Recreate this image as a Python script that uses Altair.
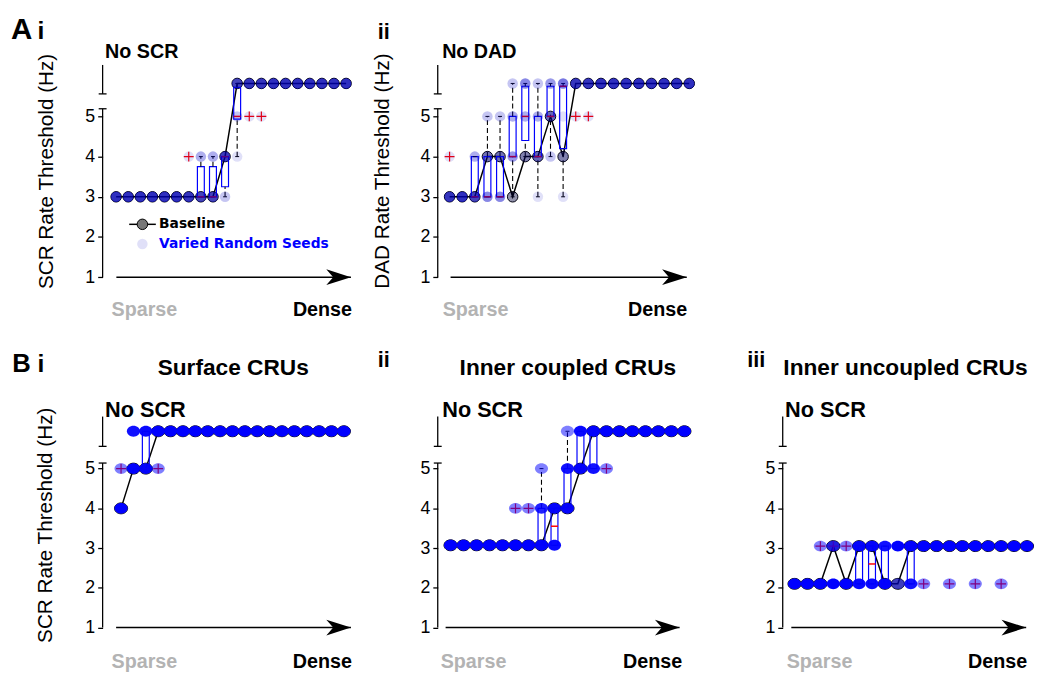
import altair as alt
import pandas as pd

# ---------------- values ----------------
NA = 5.82          # "No SCR" / "No DAD" row (panel A)
NB = 5.94          # "No SCR" row (panels B)
B3 = 3.07          # Bii lower plateau as drawn
L2, H3 = 2.1, 3.05 # Biii plateaus as drawn

# ---- A i ----
AI_BASE = [3, 3, 3, 3, 3, 3, 3, 3, 3, 4, NA, NA, NA, NA, NA, NA, NA, NA, NA, NA]
AI_SEEDS = [(0, 3, 10), (1, 3, 10), (2, 3, 10), (3, 3, 10), (4, 3, 10), (5, 3, 10),
            (6, 3, 9), (6, 4, 1), (7, 3, 7), (7, 4, 3), (8, 3, 7), (8, 4, 3),
            (9, 3, 2), (9, 4, 8), (10, 4, 1), (10, 5, 2), (10, NA, 7),
            (11, 5, 1), (11, NA, 9), (12, 5, 1), (12, NA, 9), (13, NA, 10),
            (14, NA, 10), (15, NA, 10), (16, NA, 10), (17, NA, 10), (18, NA, 10), (19, NA, 10)]
AI_BOX_X = [7, 8, 9, 10]
AI_Q1 = [3, 3, 3.25, 4.93]
AI_Q3 = [3.75, 3.75, 4, 5.72]
AI_MED = [3, 3, 4, 5]
AI_WLO = [3, 3, 3, 4]
AI_WHI = [4, 4, 4, NA]
AI_OUT_X = [6, 11, 12]
AI_OUT_V = [4, 5, 5]

# ---- A ii ----
AII_BASE = [3, 3, 3, 4, 4, 3, 4, 4, 5, 4, NA, NA, NA, NA, NA, NA, NA, NA, NA, NA]
AII_SEEDS = [(0, 3, 9), (0, 4, 1), (1, 3, 10), (2, 3, 7), (2, 4, 3),
             (3, 3, 5), (3, 4, 3), (3, 5, 2), (4, 3, 5), (4, 4, 3), (4, 5, 2),
             (5, 3, 1), (5, 4, 4), (5, 5, 3), (5, NA, 2), (6, 4, 2), (6, 5, 3), (6, NA, 5),
             (7, 3, 1), (7, 4, 4), (7, 5, 3), (7, NA, 2), (8, 4, 2), (8, 5, 4), (8, NA, 4),
             (9, 3, 1), (9, 4, 2), (9, 5, 1), (9, NA, 6), (10, 5, 1), (10, NA, 9),
             (11, 5, 1), (11, NA, 9), (12, NA, 10), (13, NA, 10), (14, NA, 10), (15, NA, 10),
             (16, NA, 10), (17, NA, 10), (18, NA, 10), (19, NA, 10)]
AII_BOX_X = [2, 3, 4, 5, 6, 7, 8, 9]
AII_Q1 = [3, 3, 3, 4, 4.4, 4, 5, 4.2]
AII_Q3 = [4, 4, 4, 5, 5.75, 5, 5.75, 5.75]
AII_MED = [3, 3, 3, 4, 5, 4, 5, 5.75]
AII_WLO = [3, 3, 3, 3, 4, 3, 4, 3]
AII_WHI = [4, 5, 5, NA, NA, NA, NA, NA]
AII_OUT_X = [0, 10, 11]
AII_OUT_V = [4, 5, 5]

# ---- B i (Surface CRUs) ----
BI_BASE = [4, 5, 5, NB, NB, NB, NB, NB, NB, NB, NB, NB, NB, NB, NB, NB, NB, NB, NB]
BI_SEEDS = [(0, 4, 9), (0, 5, 1), (1, 5, 6), (1, NB, 4), (2, 5, 5), (2, NB, 5),
            (3, 5, 1), (3, NB, 9), (4, NB, 10), (5, NB, 10), (6, NB, 10), (7, NB, 10),
            (8, NB, 10), (9, NB, 10), (10, NB, 10), (11, NB, 10), (12, NB, 10), (13, NB, 10),
            (14, NB, 10), (15, NB, 10), (16, NB, 10), (17, NB, 10), (18, NB, 10)]
BI_BOX_X = [2]
BI_Q1 = [5]
BI_Q3 = [NB]
BI_MED = [5]
BI_WLO = [5]
BI_WHI = [NB]
BI_OUT_X = [0, 3]
BI_OUT_V = [5, 5]

# ---- B ii (Inner coupled CRUs) ----
BII_BASE = [B3, B3, B3, B3, B3, B3, B3, B3, 4, 4, 5, NB, NB, NB, NB, NB, NB, NB, NB]
BII_SEEDS = [(0, B3, 10), (1, B3, 10), (2, B3, 10), (3, B3, 10), (4, B3, 10),
             (5, B3, 9), (5, 4, 1), (6, B3, 9), (6, 4, 1), (7, B3, 6), (7, 4, 3), (7, 5, 1),
             (8, B3, 5), (8, 4, 5), (9, 4, 5), (9, 5, 4), (9, NB, 1), (10, 5, 5), (10, NB, 5),
             (11, 5, 4), (11, NB, 6), (12, 5, 1), (12, NB, 9), (13, NB, 10), (14, NB, 10),
             (15, NB, 10), (16, NB, 10), (17, NB, 10), (18, NB, 10)]
BII_BOX_X = [7, 8, 9, 10, 11]
BII_Q1 = [B3, B3, 4, 5, 5]
BII_Q3 = [4, 4, 5, NB, NB]
BII_MED = [B3, 3.55, 4, 5, NB]
BII_WLO = [B3, B3, 4, 5, 5]
BII_WHI = [5, 4, NB, NB, NB]
BII_OUT_X = [5, 6, 12]
BII_OUT_V = [4, 4, 5]

# ---- B iii (Inner uncoupled CRUs) ----
BIII_BASE = [L2, L2, L2, H3, L2, H3, H3, L2, L2, H3, H3, H3, H3, H3, H3, H3, H3, H3, H3]
BIII_SEEDS = [(0, L2, 10), (1, L2, 10), (2, L2, 9), (2, H3, 1), (3, L2, 8), (3, H3, 2),
              (4, L2, 9), (4, H3, 1), (5, L2, 5), (5, H3, 5), (6, L2, 5), (6, H3, 5),
              (7, L2, 6), (7, H3, 4), (8, L2, 1), (8, H3, 9), (9, L2, 4), (9, H3, 6),
              (10, L2, 1), (10, H3, 9), (11, H3, 10), (12, L2, 1), (12, H3, 9), (13, H3, 10),
              (14, L2, 1), (14, H3, 9), (15, H3, 10), (16, L2, 1), (16, H3, 9),
              (17, H3, 10), (18, H3, 10)]
BIII_BOX_X = [5, 6, 7, 9]
BIII_Q1 = [L2, L2, L2, L2]
BIII_Q3 = [H3, H3, H3, H3]
BIII_MED = [H3, 2.6, L2, H3]
BIII_WLO = [L2, L2, L2, L2]
BIII_WHI = [H3, H3, H3, H3]
BIII_OUT_X = [2, 3, 4, 10, 12, 14, 16]
BIII_OUT_V = [H3, H3, H3, L2, L2, L2, L2]

Y_TICKS = [1, 2, 3, 4, 5]

# ---------------- drawing ----------------
ELLIPSE = "M-1,0 A1,0.83 0 1,1 1,0 A1,0.83 0 1,1 -1,0 Z"
PLUS = "M-1,0 L1,0 M0,-1 L0,1"
HEAD = "M0,0 L-5,-1.6 L-3.6,0 L-5,1.6 Z"
FONT = "Liberation Sans"
BLUE = "#0000ff"


def panel(base, seeds, box, outl, g, texts, legend=False):
    xa, dx, w, h, ymax = g["xa"], g["dx"], g["w"], g["h"], 6.4
    xs = alt.Scale(domain=[xa, xa + w / dx], nice=False, zero=False, padding=0)
    ys = alt.Scale(domain=[0, ymax], nice=False, zero=False, padding=0)
    ak = dict(values=Y_TICKS, domain=False, grid=False, ticks=True, tickSize=5,
              tickWidth=1.3, tickColor="black", labelFont=FONT, labelFontSize=18,
              labelColor="black", labelPadding=3)
    if g.get("title"):
        ak.update(title=g["title"], titleFont=FONT, titleFontSize=21,
                  titleFontWeight="normal", titleColor="black", titleAngle=270,
                  titleAlign="center", titleBaseline="middle",
                  titleX=g["tx"], titleY=g["ty"])
    else:
        ak.update(title=None)
    yaxis = alt.Axis(**ak)

    def X(f="x"):
        return alt.X(f + ":Q", scale=xs, axis=None)

    def Y(f="y"):
        return alt.Y(f + ":Q", scale=ys, axis=yaxis)

    shape, size, alpha, grey, seedc = g["shape"], g["size"], g["alpha"], g["grey"], g["seedc"]
    L = []
    # broken y axis
    lo, hi = g["seg"]
    segs = pd.DataFrame({"x": [xa, xa], "y": [1, hi[0]], "y2": [lo[1], hi[1]]})
    L.append(alt.Chart(segs).mark_rule(color="black", strokeWidth=1.3)
             .encode(x=X(), y=Y(), y2="y2:Q"))
    caps = pd.DataFrame({"x": [xa, xa], "y": [hi[0], lo[1]]})
    L.append(alt.Chart(caps).mark_tick(orient="horizontal", size=8, thickness=1.3,
                                       color="black", opacity=1)
             .encode(x=X(), y=Y()))
    # arrow
    a0, a1 = g["arrow"]
    L.append(alt.Chart(pd.DataFrame({"x": [a0], "x2": [a1], "y": [1]}))
             .mark_rule(color="black", strokeWidth=1.5)
             .encode(x=X(), x2="x2:Q", y=Y()))
    L.append(alt.Chart(pd.DataFrame({"x": [a1], "y": [1]}))
             .mark_point(shape=HEAD, filled=True, color="black", size=100, opacity=1,
                         strokeWidth=0)
             .encode(x=X(), y=Y()))
    # baseline
    bdf = pd.DataFrame({"x": list(range(len(base))), "y": base})
    L.append(alt.Chart(bdf).mark_point(shape=shape, filled=True, fill=grey,
                                       stroke="black", strokeWidth=1, size=size, opacity=1)
             .encode(x=X(), y=Y()))
    L.append(alt.Chart(bdf).mark_line(color="black", strokeWidth=1.5)
             .encode(x=X(), y=Y()))
    # boxplots
    bx, q1, q3, med, wlo, whi = box
    boxdf = pd.DataFrame({"x": bx, "y": q1, "q3": q3})
    L.append(alt.Chart(boxdf).mark_bar(width=7, fill="white", fillOpacity=0, stroke=BLUE,
                                       strokeWidth=1.2)
             .encode(x=X(), y=Y(), y2="q3:Q"))
    wx, wy, wy2, cx, cy = [], [], [], [], []
    for x_, a_, b_, lo_, hi_ in zip(bx, q1, q3, wlo, whi):
        if hi_ > b_:
            wx.append(x_); wy.append(b_); wy2.append(hi_)
        if lo_ < a_:
            wx.append(x_); wy.append(lo_); wy2.append(a_)
        cx += [x_, x_]; cy += [lo_, hi_]
    if wx:
        L.append(alt.Chart(pd.DataFrame({"x": wx, "y": wy, "y2": wy2}))
                 .mark_rule(color="black", strokeWidth=1.1, strokeDash=[5, 3])
                 .encode(x=X(), y=Y(), y2="y2:Q"))
    L.append(alt.Chart(pd.DataFrame({"x": cx, "y": cy}))
             .mark_tick(orient="horizontal", size=4, thickness=1, color="black", opacity=1)
             .encode(x=X(), y=Y()))
    L.append(alt.Chart(pd.DataFrame({"x": bx, "y": med}))
             .mark_tick(orient="horizontal", size=7, thickness=1.5, color="#ff0000", opacity=1)
             .encode(x=X(), y=Y()))
    ox, ov = outl
    L.append(alt.Chart(pd.DataFrame({"x": ox, "y": ov}))
             .mark_point(shape=PLUS, filled=False, color="#ff0000", strokeWidth=1.2,
                         size=100, opacity=1)
             .encode(x=X(), y=Y()))
    # varied random seeds
    sdf = pd.DataFrame({"x": [s[0] for s in seeds], "y": [s[1] for s in seeds],
                        "n": [s[2] for s in seeds]})
    L.append(alt.Chart(sdf).transform_calculate(op=f"1 - pow({1 - alpha}, datum.n)")
             .mark_point(shape=shape, filled=True, color=seedc, size=size, strokeWidth=0)
             .encode(x=X(), y=Y(), opacity=alt.Opacity("op:Q", scale=None)))
    # legend
    if legend:
        lg = g["legend"]
        L.append(alt.Chart(pd.DataFrame({"x": [lg["l0"]], "x2": [lg["l1"]], "y": [lg["y1"]]}))
                 .mark_rule(color="black", strokeWidth=1.5)
                 .encode(x=X(), x2="x2:Q", y=Y()))
        L.append(alt.Chart(pd.DataFrame({"x": [lg["cx"]], "y": [lg["y1"]]}))
                 .mark_point(shape=shape, filled=True, fill="#777777", stroke="black",
                             strokeWidth=1, size=size, opacity=1)
                 .encode(x=X(), y=Y()))
        L.append(alt.Chart(pd.DataFrame({"x": [lg["cx"]], "y": [lg["y2"]]}))
                 .mark_point(shape=shape, filled=True, color=seedc, size=size,
                             strokeWidth=0, opacity=alpha)
                 .encode(x=X(), y=Y()))
        for txt, yy, col in [("Baseline", lg["y1"], "black"),
                             ("Varied Random Seeds", lg["y2"], BLUE)]:
            L.append(alt.Chart(pd.DataFrame({"x": [lg["tx"]], "y": [yy], "t": [txt]}))
                     .mark_text(align="left", baseline="middle", font="DejaVu Sans",
                                fontWeight="bold", fontSize=14, color=col)
                     .encode(x=X(), y=Y(), text="t:N"))
    # text annotations
    for (t, x_, y_, fs, col, al) in texts:
        L.append(alt.Chart(pd.DataFrame({"x": [x_], "y": [y_], "t": [t]}))
                 .mark_text(align=al, baseline="alphabetic", font=FONT, fontWeight="bold",
                            fontSize=fs, color=col)
                 .encode(x=X(), y=Y(), text="t:N"))
    return alt.layer(*L).properties(width=w, height=h)


SP = "#b3b3b3"
GA = dict(shape="circle", size=113, alpha=0.12, grey="#a8a8a8", seedc="#0000c8",
          seg=((1, 5.19), (5.56, 6.28)), h=261)
GB = dict(shape=ELLIPSE, size=177, alpha=0.5, grey="#7a7a7a", seedc=BLUE,
          seg=((1, 5.14), (5.56, 6.31)), h=258)

ai = panel(AI_BASE, AI_SEEDS, (AI_BOX_X, AI_Q1, AI_Q3, AI_MED, AI_WLO, AI_WHI),
           (AI_OUT_X, AI_OUT_V),
           dict(GA, xa=-1.116, dx=12.28, w=280, arrow=(0.02, 19.4),
                title="SCR Rate Threshold (Hz)", tx=-57, ty=112.4,
                legend=dict(l0=1.08, l1=3.28, cx=2.17, y1=2.315, y2=1.825, tx=3.55)),
           [("A", -8.69, 6.934, 30, "black", "left"), ("i", -6.49, 6.934, 25, "black", "left"),
            ("No SCR", -0.91, 6.45, 20, "black", "left"),
            ("Sparse", -0.38, 0.027, 20, SP, "left"), ("Dense", 19.49, 0.027, 20, "black", "right")],
           legend=True)

aii = panel(AII_BASE, AII_SEEDS, (AII_BOX_X, AII_Q1, AII_Q3, AII_MED, AII_WLO, AII_WHI),
            (AII_OUT_X, AII_OUT_V),
            dict(GA, xa=-0.9375, dx=12.8, w=290, arrow=(0.08, 18.8),
                 title="DAD Rate Threshold (Hz)", tx=-56, ty=112),
            [("ii", -5.7, 6.934, 22, "black", "left"),
             ("No DAD", -0.59, 6.45, 20, "black", "left"),
             ("Sparse", -0.55, 0.027, 20, SP, "left"), ("Dense", 18.83, 0.027, 20, "black", "right")])

bi = panel(BI_BASE, BI_SEEDS, (BI_BOX_X, BI_Q1, BI_Q3, BI_MED, BI_WLO, BI_WHI),
           (BI_OUT_X, BI_OUT_V),
           dict(GB, xa=-1.489, dx=12.56, w=280, arrow=(-0.4, 18.57),
                title="SCR Rate Threshold (Hz)", tx=-58, ty=113.4),
           [("B", -8.79, 7.43, 26, "black", "left"), ("i", -6.74, 7.43, 25, "black", "left"),
            ("Surface CRUs", 9.06, 7.35, 23, "black", "center"),
            ("No SCR", -1.29, 6.31, 22, "black", "left"),
            ("Sparse", -0.77, -0.017, 20, SP, "left"), ("Dense", 18.65, -0.017, 20, "black", "right")])

bii = panel(BII_BASE, BII_SEEDS, (BII_BOX_X, BII_Q1, BII_Q3, BII_MED, BII_WLO, BII_WHI),
            (BII_OUT_X, BII_OUT_V),
            dict(GB, xa=-0.986, dx=13.18, w=290, arrow=(-0.38, 17.63)),
            [("ii", -5.61, 7.56, 22, "black", "left"),
             ("Inner coupled CRUs", 9.03, 7.35, 23, "black", "center"),
             ("No SCR", -0.64, 6.31, 22, "black", "left"),
             ("Sparse", -0.76, -0.017, 20, SP, "left"), ("Dense", 17.83, -0.017, 20, "black", "right")])

biii = panel(BIII_BASE, BIII_SEEDS, (BIII_BOX_X, BIII_Q1, BIII_Q3, BIII_MED, BIII_WLO, BIII_WHI),
             (BIII_OUT_X, BIII_OUT_V),
             dict(GB, xa=-0.916, dx=13.1, w=251, arrow=(-0.25, 17.94)),
             [("iii", -3.66, 7.56, 22, "black", "left"),
              ("Inner uncoupled CRUs", 8.59, 7.35, 23, "black", "center"),
              ("No SCR", -0.73, 6.31, 22, "black", "left"),
              ("Sparse", -0.61, -0.017, 20, SP, "left"), ("Dense", 18.02, -0.017, 20, "black", "right")])

empty = (alt.Chart(pd.DataFrame({"x": [0]})).mark_point(opacity=0)
         .encode(x=alt.X("x:Q", axis=None), y=alt.Y("x:Q", axis=None))
         .properties(width=10, height=10))

chart = alt.concat(ai, aii, empty, bi, bii, biii, columns=3,
                   spacing={"row": 97, "column": 60}, bounds="flush", align="each",
                   padding={"left": 2, "top": 2, "right": 2, "bottom": 2}
                   ).configure_view(stroke=None).properties(background="white")

chart.save("out.html", embed_options={"renderer": "svg", "actions": False})
